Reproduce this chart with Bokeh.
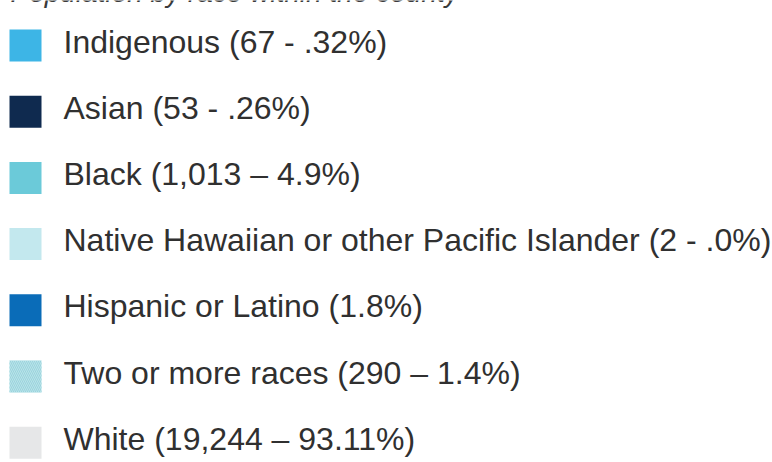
import numpy as np
from bokeh.plotting import figure
from bokeh.models import Range1d, ColumnDataSource
from bokeh.core.properties import value
from bokeh.embed import file_html
from bokeh.resources import INLINE

title = "Population by race within the county"
labels = [
    "Indigenous (67 - .32%)",
    "Asian (53 - .26%)",
    "Black (1,013 \u2013 4.9%)",
    "Native Hawaiian or other Pacific Islander (2 - .0%)",
    "Hispanic or Latino (1.8%)",
    "Two or more races (290 \u2013 1.4%)",
    "White (19,244 \u2013 93.11%)",
]
colors = ["#3db5e6", "#0f2a4f", "#6bcad9", "#c3e8ee", "#0a6cb8", "#b8e3e9", "#e6e7e8"]
hatched = [False, False, False, False, False, True, False]

W, H = 772, 462
p = figure(width=W, height=H, output_backend="svg", toolbar_location=None,
           x_range=Range1d(0, W), y_range=Range1d(H, 0),
           min_border=0, outline_line_color=None)
p.axis.visible = False
p.grid.visible = False
p.background_fill_color = "white"
p.border_fill_color = "white"

n = len(labels)
row_y = 45 + 66.2 * np.arange(n)
src = ColumnDataSource(dict(
    x=np.full(n, 25.0), y=row_y, tx=np.full(n, 63.0), ty=row_y - 4,
    label=labels, color=colors,
    hatch=["\\" if h else " " for h in hatched],
))

p.rect(x="x", y="y", width=32, height=32, width_units="screen", height_units="screen",
       fill_color="color", line_color=None, hatch_pattern="hatch",
       hatch_color="#93cfd9", hatch_scale=4, hatch_weight=1, hatch_alpha=0.8, source=src)

p.text(x="tx", y="ty", text="label", source=src, text_font=value("Liberation Sans"),
       text_font_size="32px", text_color="#303030", text_baseline="alphabetic",
       text_align="left")

p.text(x=[10], y=[-8], text=[title], text_font=value("Liberation Sans"),
       text_font_style="italic", text_font_size="28px", text_color="#3a3a3a",
       text_baseline="alphabetic")

open("out.html", "w").write(file_html(p, INLINE))
